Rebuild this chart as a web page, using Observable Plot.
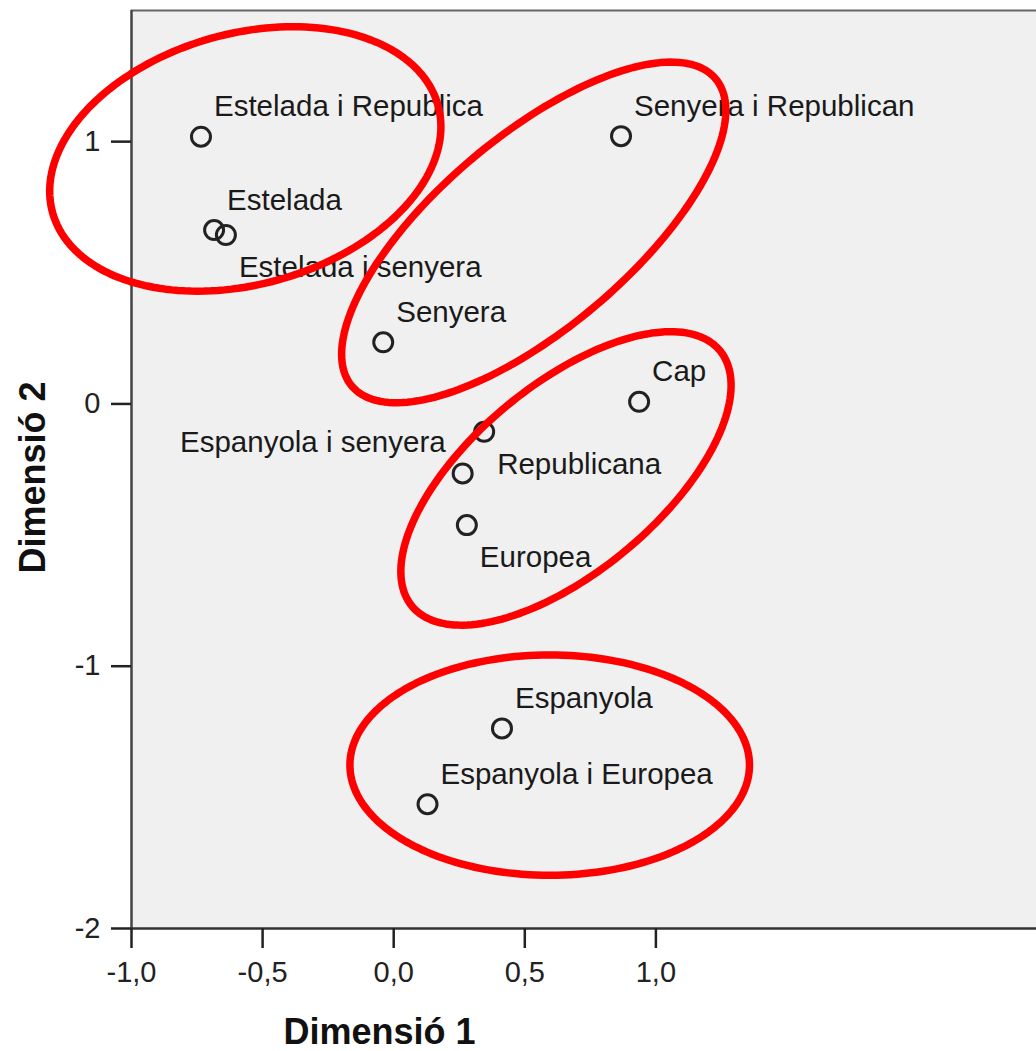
<!DOCTYPE html>
<html><head><meta charset="utf-8">
<script src="https://cdn.jsdelivr.net/npm/d3@7"></script>
<script src="https://cdn.jsdelivr.net/npm/@observablehq/plot@0.6"></script>
<style>body{margin:0;background:#fff}</style>
</head><body><div id="chart"></div>
<script>
// --- data ---
const categories = ["Estelada i Republica","Estelada","Estelada i senyera","Senyera","Senyera i Republican","Cap","Republicana","Espanyola i senyera","Europea","Espanyola","Espanyola i Europea"];
const dim1 = [-0.735,-0.685,-0.640,-0.040,0.867,0.936,0.345,0.263,0.279,0.413,0.129];
const dim2 = [1.019,0.663,0.644,0.235,1.021,0.008,-0.106,-0.265,-0.462,-1.237,-1.526];
const labelPlacement = ["ne","ne","se","ne","ne","ne","se","nw","se","ne","ne"];
const xTicks = [-1,-0.5,0,0.5,1];
const yTicks = [-2,-1,0,1];
const xDomain = [-1, 2.4516];
const yDomain = [-2, 1.5];
const xTitle = "Dimensió 1";
const yTitle = "Dimensió 2";
// group ellipses (data units): centre, semi-axes, rotation in degrees
const groupCx = [-0.566, 0.534, 0.657, 0.595];
const groupCy = [0.934, 0.654, -0.284, -1.377];
const groupA = [0.763, 0.908, 0.763, 0.762];
const groupB = [0.478, 0.366, 0.357, 0.420];
const groupAngle = [15.6, 40.2, 39.7, 0];

const points = categories.map((c,i)=>({name:c, x:dim1[i], y:dim2[i], pos:labelPlacement[i]}));
const ellipsePts = [];
groupCx.forEach((cx,k)=>{
  const th = groupAngle[k]*Math.PI/180;
  for (let deg=0; deg<=360; deg+=2){
    const t = deg*Math.PI/180;
    const ex = groupA[k]*Math.cos(t), ey = groupB[k]*Math.sin(t);
    ellipsePts.push({id:k, x: cx + ex*Math.cos(th) - ey*Math.sin(th), y: groupCy[k] + ex*Math.sin(th) + ey*Math.cos(th)});
  }
});

const font = "'Liberation Sans', Arial, sans-serif";
const labelFont = 29.5;
const chart = Plot.plot({
  width: 1036, height: 1051,
  marginLeft: 131, marginRight: 0, marginTop: 10, marginBottom: 123,
  style: {fontFamily: font, color: "#222", background: "#fff", overflow: "visible"},
  x: {domain: xDomain, label: null},
  y: {domain: yDomain, label: null},
  marks: [
    Plot.frame({fill: "#f0f0f0", stroke: null}),
    Plot.ruleY([yDomain[1]], {stroke: "#666", strokeWidth: 2}),
    Plot.ruleX([xDomain[0]], {stroke: "#444", strokeWidth: 2.5}),
    Plot.ruleY([yDomain[0]], {stroke: "#333", strokeWidth: 2.5}),
    Plot.axisX({ticks: xTicks, tickFormat: d => d.toFixed(1).replace(".", ",").replace("−","-"), tickSize: 20, tickPadding: 13, fontSize: 29, strokeWidth: 2.5, label: null}),
    Plot.axisY({ticks: yTicks, tickFormat: d => String(d), tickSize: 20, tickPadding: 11, fontSize: 29, strokeWidth: 2.5, label: null}),
    Plot.dot(points, {x: "x", y: "y", r: 9.5, stroke: "#222", strokeWidth: 3, fill: "none"}),
    Plot.text(points.filter(d=>d.pos==="ne"), {x:"x", y:"y", text:"name", textAnchor:"start", lineAnchor:"bottom", dx:13, dy:-20.5, fontSize: labelFont, fill:"#1a1a1a"}),
    Plot.text(points.filter(d=>d.pos==="se"), {x:"x", y:"y", text:"name", textAnchor:"start", lineAnchor:"bottom", dx:13, dy:42, fontSize: labelFont, fill:"#1a1a1a"}),
    Plot.text(points.filter(d=>d.pos==="nw"), {x:"x", y:"y", text:"name", textAnchor:"end", lineAnchor:"bottom", dx:-17, dy:-21.5, fontSize: labelFont, fill:"#1a1a1a"}),
    Plot.line(ellipsePts, {x:"x", y:"y", z:"id", stroke:"#ff0000", strokeWidth: 7.5}),
    Plot.text([xTitle], {frameAnchor: "bottom-left", textAnchor: "middle", lineAnchor: "middle", dx: 248, dy: 104, fontSize: 36, fontWeight: "bold", fill: "#111"}),
    Plot.text([yTitle], {frameAnchor: "left", textAnchor: "middle", lineAnchor: "bottom", rotate: -90, dx: -87, dy: 8, fontSize: 36, fontWeight: "bold", fill: "#111"})
  ]
});
document.getElementById("chart").appendChild(chart);
</script>
</body></html>
